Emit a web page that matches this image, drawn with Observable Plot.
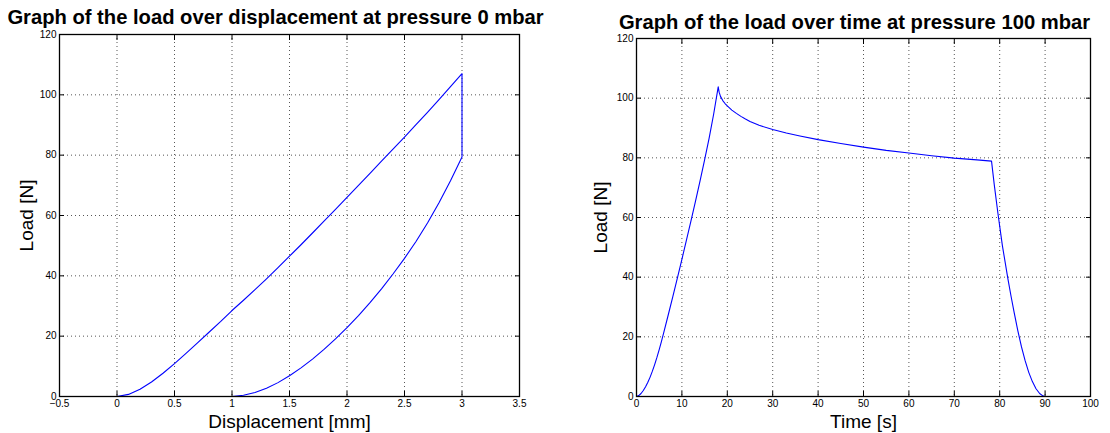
<!DOCTYPE html>
<html>
<head>
<meta charset="utf-8">
<script src="https://cdn.jsdelivr.net/npm/d3@7"></script>
<script src="https://cdn.jsdelivr.net/npm/@observablehq/plot@0.6"></script>
<style>
  html, body { margin: 0; padding: 0; background: #fff; }
  #wrap { position: relative; width: 1110px; height: 433px; overflow: hidden; background: #fff; }
  #wrap svg { position: absolute; top: 0; }
</style>
</head>
<body>
<div id="wrap"></div>
<script>
// ---- Left chart: load over displacement (0 mbar) ----
const dispX = [0, 0.1, 0.2, 0.3, 0.4, 0.5, 0.6, 0.7, 0.8, 0.9, 1.0, 1.1, 1.2, 1.3, 1.4, 1.5, 1.6, 1.7, 1.8, 1.9,
               2.0, 2.1, 2.2, 2.3, 2.4, 2.5, 2.6, 2.7, 2.8, 2.9, 3.0,
               3.0, 2.9, 2.8, 2.7, 2.6, 2.5, 2.4, 2.3, 2.2, 2.1, 2.0, 1.9, 1.8, 1.7, 1.6, 1.5, 1.4, 1.3, 1.2, 1.1, 1.0,
               0.5, 0];
const dispLoad = [0, 0.7, 2.4, 4.8, 7.7, 10.9, 14.3, 17.8, 21.3, 24.8, 28.5, 31.9, 35.4, 39.0, 42.7, 46.5, 50.3, 54.2, 58.1, 62.0,
                  66.0, 70.0, 74.0, 78.0, 82.0, 86.0, 90.1, 94.2, 98.4, 102.7, 107.0,
                  79.4, 71.5, 64.2, 57.5, 51.4, 45.8, 40.6, 35.7, 31.1, 26.8, 22.8, 19.1, 15.6, 12.4, 9.5, 6.9, 4.6, 2.7, 1.3, 0.4, 0,
                  0, 0];
const dispTicks = [-0.5, 0, 0.5, 1, 1.5, 2, 2.5, 3, 3.5];
const dispTickLabels = ["\u22120.5", "0", "0.5", "1", "1.5", "2", "2.5", "3", "3.5"];

// ---- Right chart: load over time (100 mbar) ----
const timeS = [0, 0.5, 1, 1.5, 2, 2.5, 3, 3.5, 4, 4.5, 5, 5.5, 6, 7, 8, 9, 10, 11, 12, 13, 14, 15, 16, 17, 18,
               18.2, 18.5, 19, 19.5, 20, 21, 22, 23, 24, 25, 27, 30, 33, 36, 40, 45, 50, 55, 60, 65, 70, 75, 78.2,
               78.8, 79.6, 80.6, 81.8, 82.5, 83.2, 84, 84.8, 85.6, 86.4, 87.2, 88, 88.8, 89.5, 90, 93, 96.2];
const timeLoad = [0, 0.3, 1.0, 2.0, 3.3, 4.8, 6.5, 8.5, 10.7, 13.1, 15.7, 18.5, 21.4, 27.4, 33.5, 39.7, 46.0, 52.4, 58.9, 65.5, 72.3, 79.3, 86.6, 94.7, 103.8,
                  102.0, 100.6, 99.2, 98.2, 97.4, 96.0, 94.9, 93.9, 93.0, 92.2, 90.9, 89.5, 88.3, 87.3, 86.1, 84.8, 83.6, 82.5, 81.6, 80.7, 79.9, 79.3, 78.9,
                  71.0, 61.5, 50.5, 39.5, 33.6, 28.0, 22.0, 16.6, 12.0, 8.1, 5.0, 2.6, 1.0, 0.2, 0, 0, 0];
const timeTicks = [0, 10, 20, 30, 40, 50, 60, 70, 80, 90, 100];
const timeTickLabels = ["0", "10", "20", "30", "40", "50", "60", "70", "80", "90", "100"];

const loadTicks = [0, 20, 40, 60, 80, 100, 120];
const loadTickLabels = ["0", "20", "40", "60", "80", "100", "120"];

const titles = ["Graph of the load over displacement at pressure 0 mbar",
                "Graph of the load over time at pressure 100 mbar"];
const xLabels = ["Displacement [mm]", "Time [s]"];
const yLabel = "Load [N]";

const FONT = "'Liberation Sans', Arial, Helvetica, sans-serif";

function panel(cfg) {
  const data = cfg.xs.map((x, i) => ({x, y: cfg.ys[i]}));
  const fmtX = d => cfg.xLabelsTick[cfg.xTicks.indexOf(d)];
  const fmtY = d => loadTickLabels[loadTicks.indexOf(d)];
  const gridStyle = {stroke: "#444", strokeOpacity: 0.9, strokeWidth: 1, strokeDasharray: "1,3"};
  return Plot.plot({
    width: cfg.width,
    height: 433,
    marginLeft: cfg.ml,
    marginRight: cfg.mr,
    marginTop: cfg.mt,
    marginBottom: cfg.mb,
    style: {fontFamily: FONT, background: "transparent", color: "#000", overflow: "visible"},
    x: {domain: cfg.xDomain, axis: null},
    y: {domain: [0, 120], axis: null},
    marks: [
      Plot.gridX(cfg.xTicks, gridStyle),
      Plot.gridY(loadTicks, gridStyle),
      Plot.line(data, {x: "x", y: "y", stroke: "#0000ff", strokeWidth: 1.1}),
      Plot.frame({stroke: "#000", strokeWidth: 1.3}),
      // inward tick marks on all four sides
      Plot.axisX(cfg.xTicks, {anchor: "bottom", tickSize: -5, tickFormat: () => "", label: null, stroke: "#000"}),
      Plot.axisX(cfg.xTicks, {anchor: "top", tickSize: -5, tickFormat: () => "", label: null, stroke: "#000"}),
      Plot.axisY(loadTicks, {anchor: "left", tickSize: -5, tickFormat: () => "", label: null, stroke: "#000"}),
      Plot.axisY(loadTicks, {anchor: "right", tickSize: -5, tickFormat: () => "", label: null, stroke: "#000"}),
      // tick labels
      Plot.axisX(cfg.xTicks, {anchor: "bottom", tickSize: 0, tickPadding: 3, tickFormat: fmtX, label: null, fontSize: 10, fill: "#000"}),
      Plot.axisY(loadTicks, {anchor: "left", tickSize: 0, tickPadding: 3, tickFormat: fmtY, label: null, fontSize: 10, fill: "#000"}),
      // title and axis labels
      Plot.text([cfg.title], {frameAnchor: "top", textAnchor: "middle", lineAnchor: "top", dx: cfg.titleDx, dy: cfg.titleDy, fontSize: 20.2, fontWeight: "bold", fill: "#000", text: d => d}),
      Plot.text([cfg.xLabel], {frameAnchor: "bottom", textAnchor: "middle", lineAnchor: "bottom", dy: 31, fontSize: 19, fill: "#000", text: d => d}),
      Plot.text([yLabel], {frameAnchor: "left", textAnchor: "middle", lineAnchor: "middle", dx: cfg.yLabelDx, rotate: -90, fontSize: 19, fill: "#000", text: d => d})
    ]
  });
}

const wrap = document.getElementById("wrap");

const left = panel({
  width: 555, ml: 59, mr: 36, mt: 34, mb: 37,
  xs: dispX, ys: dispLoad, xDomain: [-0.5, 3.5],
  xTicks: dispTicks, xLabelsTick: dispTickLabels,
  title: titles[0], titleDx: -14, titleDy: -25,
  xLabel: xLabels[0], yLabelDx: -33
});
left.style.left = "0px";
wrap.appendChild(left);

const right = panel({
  width: 555, ml: 81, mr: 20, mt: 38, mb: 37,
  xs: timeS, ys: timeLoad, xDomain: [0, 100],
  xTicks: timeTicks, xLabelsTick: timeTickLabels,
  title: titles[1], titleDx: -9, titleDy: -24,
  xLabel: xLabels[1], yLabelDx: -36
});
right.style.left = "555px";
wrap.appendChild(right);
</script>
</body>
</html>
